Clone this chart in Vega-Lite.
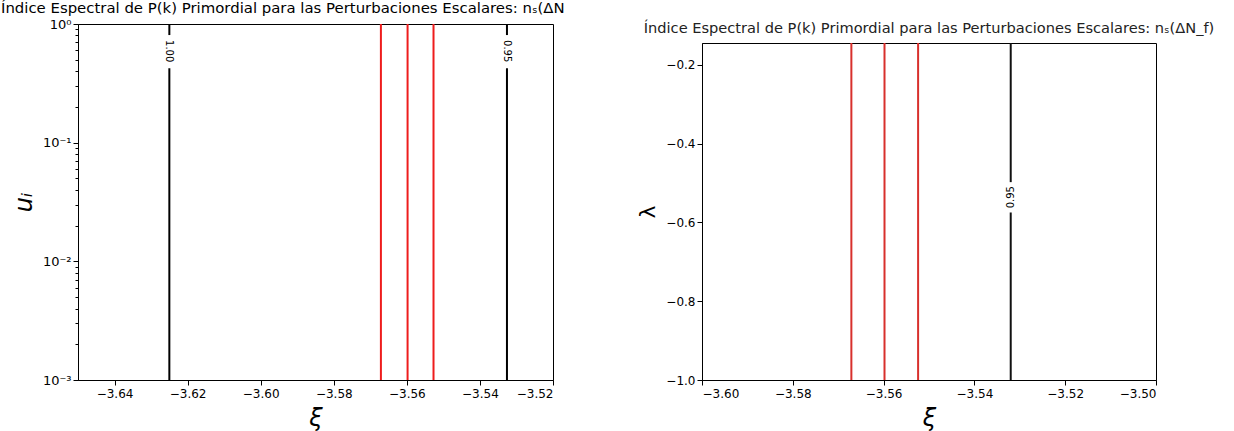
{
  "$schema": "https://vega.github.io/schema/vega-lite/v6.json",
  "padding": {"left": 0, "top": 0, "right": 0, "bottom": 0},
  "background": "white",
  "config": {
    "font": "DejaVu Sans",
    "view": {"stroke": "black", "strokeWidth": 1},
    "axis": {"grid": false, "domainColor": "black", "tickColor": "black", "labelColor": "black", "titleColor": "black", "labelFont": "DejaVu Sans", "titleFont": "DejaVu Sans", "labelFontSize": 12, "tickSize": 5, "labelPadding": 3, "titleFontWeight": "normal"},
    "title": {"font": "DejaVu Sans", "fontWeight": "normal", "color": "black"}
  },
  "datasets": {
    "left_lines": [
      {"xi": -3.625, "u_lo": 0.001, "u_hi": 0.424, "kind": "contour"},
      {"xi": -3.625, "u_lo": 0.807, "u_hi": 1, "kind": "contour"},
      {"xi": -3.5326, "u_lo": 0.001, "u_hi": 0.424, "kind": "contour"},
      {"xi": -3.5326, "u_lo": 0.807, "u_hi": 1, "kind": "contour"},
      {"xi": -3.5671, "u_lo": 0.001, "u_hi": 1, "kind": "bound"},
      {"xi": -3.5598, "u_lo": 0.001, "u_hi": 1, "kind": "bound"},
      {"xi": -3.5527, "u_lo": 0.001, "u_hi": 1, "kind": "bound"}
    ],
    "left_labels": [
      {"xi": -3.625, "u": 0.59, "label": "1.00"},
      {"xi": -3.5326, "u": 0.59, "label": "0.95"}
    ],
    "right_lines": [
      {"xi": -3.532, "lam_lo": -1.0, "lam_hi": -0.575, "kind": "contour"},
      {"xi": -3.532, "lam_lo": -0.498, "lam_hi": -0.145, "kind": "contour"},
      {"xi": -3.5671, "lam_lo": -1.0, "lam_hi": -0.145, "kind": "bound"},
      {"xi": -3.5598, "lam_lo": -1.0, "lam_hi": -0.145, "kind": "bound"},
      {"xi": -3.5524, "lam_lo": -1.0, "lam_hi": -0.145, "kind": "bound"}
    ],
    "right_labels": [
      {"xi": -3.532, "lam": -0.5363, "label": "0.95"}
    ],
    "empty": []
  },
  "hconcat": [
    {
      "width": 475,
      "height": 356,
      "title": {"text": "Índice Espectral de P(k) Primordial para las Perturbaciones Escalares: nₛ(ΔN", "anchor": "start", "frame": "group", "dx": -77, "fontSize": 14.9, "offset": 2},
      "layer": [
        {
          "data": {"name": "left_lines"},
          "mark": {"type": "rule", "strokeWidth": 2},
          "encoding": {
            "x": {"field": "xi", "type": "quantitative", "scale": {"domain": [-3.65, -3.52], "nice": false, "zero": false},
                  "axis": {"values": [-3.64, -3.62, -3.6, -3.58, -3.56, -3.54, -3.52], "format": ".2f", "title": "ξ", "titleFontSize": 24, "titleFontStyle": "italic", "minExtent": 20, "maxExtent": 20, "titlePadding": 6}},
            "y": {"field": "u_lo", "type": "quantitative", "scale": {"type": "log", "domain": [0.001, 1], "nice": false},
                  "axis": {"orient": "left", "values": [0.001, 0.01, 0.1, 1], "labelExpr": "datum.value >= 0.5 ? '10⁰' : datum.value >= 0.05 ? '10⁻¹' : datum.value >= 0.005 ? '10⁻²' : '10⁻³'", "labelFontSize": 13, "title": "uᵢ", "titleFontSize": 24, "titleFontStyle": "italic", "minExtent": 42, "maxExtent": 42, "titlePadding": 0, "labelPadding": 2}},
            "y2": {"field": "u_hi"},
            "color": {"field": "kind", "type": "nominal", "scale": {"domain": ["contour", "bound"], "range": ["black", "#ee1c1c"]}, "legend": null}
          }
        },
        {
          "data": {"name": "left_labels"},
          "mark": {"type": "text", "angle": 90, "fontSize": 10, "color": "black"},
          "encoding": {
            "x": {"field": "xi", "type": "quantitative"},
            "y": {"field": "u", "type": "quantitative",
                  "axis": {"orient": "left", "values": [0.002, 0.003, 0.004, 0.005, 0.006, 0.007, 0.008, 0.009, 0.02, 0.03, 0.04, 0.05, 0.06, 0.07, 0.08, 0.09, 0.2, 0.3, 0.4, 0.5, 0.6, 0.7, 0.8, 0.9], "labels": false, "domain": false, "tickSize": 3, "title": null}},
            "text": {"field": "label"}
          }
        }
      ],
      "resolve": {"axis": {"y": "independent"}}
    },
    {
      "spacing": -5,
      "vconcat": [
        {
          "width": 1,
          "height": 1,
          "view": {"stroke": null},
          "data": {"name": "empty"},
          "mark": {"type": "point", "opacity": 0},
          "encoding": {}
        },
        {
          "width": 454,
          "height": 337,
          "title": {"text": "Índice Espectral de P(k) Primordial para las Perturbaciones Escalares: nₛ(ΔN_f)", "anchor": "middle", "frame": "group", "fontSize": 14.6, "offset": 6, "color": "#222222"},
          "layer": [
            {
              "data": {"name": "right_lines"},
              "mark": {"type": "rule", "strokeWidth": 2},
              "encoding": {
                "x": {"field": "xi", "type": "quantitative", "scale": {"domain": [-3.6, -3.5], "nice": false, "zero": false},
                      "axis": {"values": [-3.6, -3.58, -3.56, -3.54, -3.52, -3.5], "format": ".2f", "title": "ξ", "titleFontSize": 24, "titleFontStyle": "italic", "minExtent": 20, "maxExtent": 20, "titlePadding": 6}},
                "y": {"field": "lam_lo", "type": "quantitative", "scale": {"domain": [-1.0, -0.145], "nice": false, "zero": false},
                      "axis": {"values": [-1.0, -0.8, -0.6, -0.4, -0.2], "format": ".1f", "title": "λ", "titleFontSize": 22, "minExtent": 40, "maxExtent": 40, "titlePadding": 3, "labelPadding": 2}},
                "y2": {"field": "lam_hi"},
                "color": {"field": "kind", "type": "nominal", "scale": {"domain": ["contour", "bound"], "range": ["#111111", "#d8302c"]}, "legend": null}
              }
            },
            {
              "data": {"name": "right_labels"},
              "mark": {"type": "text", "angle": 270, "fontSize": 10, "color": "black"},
              "encoding": {
                "x": {"field": "xi", "type": "quantitative"},
                "y": {"field": "lam", "type": "quantitative"},
                "text": {"field": "label"}
              }
            }
          ]
        }
      ]
    }
  ],
  "spacing": 69,
  "resolve": {"scale": {"color": "independent"}}
}
